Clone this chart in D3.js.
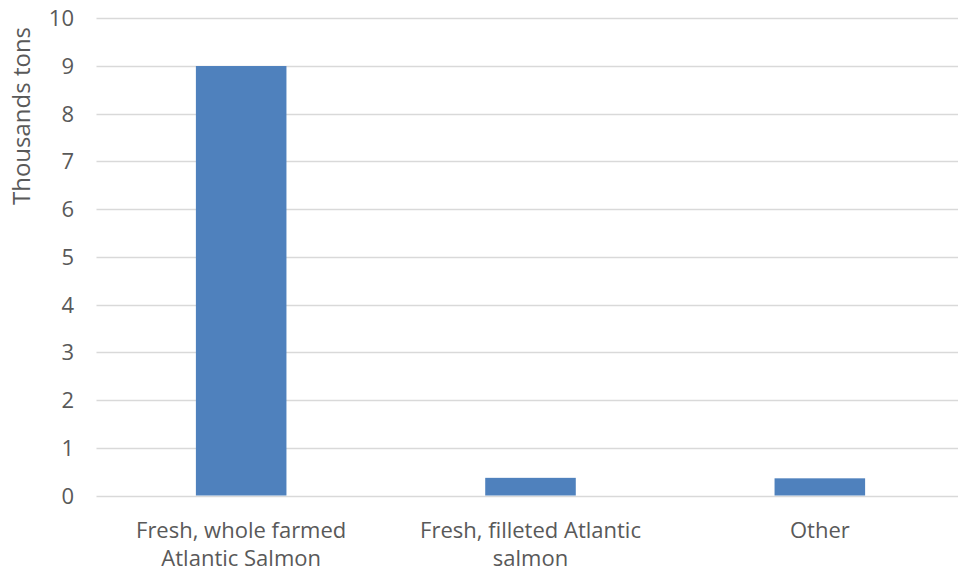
<!DOCTYPE html>
<html>
<head>
<meta charset="utf-8">
<script src="https://cdn.jsdelivr.net/npm/d3@7"></script>
<style>
  body { margin: 0; background: #fff; }
  svg text { font-family: "Open Sans", "Noto Sans", sans-serif; fill: #595959; }
</style>
</head>
<body>
<div id="chart"></div>
<script>
const categories = [
  ["Fresh, whole farmed", "Atlantic Salmon"],
  ["Fresh, filleted Atlantic", "salmon"],
  ["Other"]
];
const values = [9, 0.37, 0.36];
const yTicks = [0, 1, 2, 3, 4, 5, 6, 7, 8, 9, 10];
const yLabel = "Thousands tons";

const width = 958, height = 575;
const svg = d3.select("#chart").append("svg")
  .attr("width", width)
  .attr("height", height);

const x = d3.scaleBand()
  .domain(d3.range(categories.length))
  .range([96.5, 964.5])
  .paddingInner(0.687)
  .paddingOuter(0.3435);

const y = d3.scaleLinear()
  .domain([0, 10])
  .range([495.5, 18.3]);

// gridlines
svg.append("g").selectAll("line")
  .data(yTicks)
  .enter().append("line")
  .attr("x1", 96.5)
  .attr("x2", width)
  .attr("y1", d => Math.round(y(d)) + 0.5)
  .attr("y2", d => Math.round(y(d)) + 0.5)
  .attr("stroke", "#d9d9d9")
  .attr("stroke-width", 1.5);

// y tick labels
svg.append("g").selectAll("text")
  .data(yTicks)
  .enter().append("text")
  .attr("x", 74)
  .attr("y", d => y(d) + 8)
  .attr("text-anchor", "end")
  .style("font-size", "22px")
  .text(d => d);

// bars
svg.append("g").selectAll("rect")
  .data(values)
  .enter().append("rect")
  .attr("x", (d, i) => x(i))
  .attr("width", x.bandwidth())
  .attr("y", d => y(d))
  .attr("height", d => y(0) - y(d))
  .attr("fill", "#4f81bd");

// category labels
const cat = svg.append("g").selectAll("text")
  .data(categories)
  .enter().append("text")
  .attr("text-anchor", "middle")
  .style("font-size", "22px")
  .attr("transform", (d, i) => `translate(${x(i) + x.bandwidth() / 2}, 538)`);

cat.selectAll("tspan")
  .data(d => d)
  .enter().append("tspan")
  .attr("x", 0)
  .attr("dy", (d, i) => i === 0 ? 0 : 28)
  .text(d => d);

// y axis title
svg.append("text")
  .attr("transform", "translate(30, 116) rotate(-90)")
  .attr("text-anchor", "middle")
  .style("font-size", "24px")
  .text(yLabel);
</script>
</body>
</html>
